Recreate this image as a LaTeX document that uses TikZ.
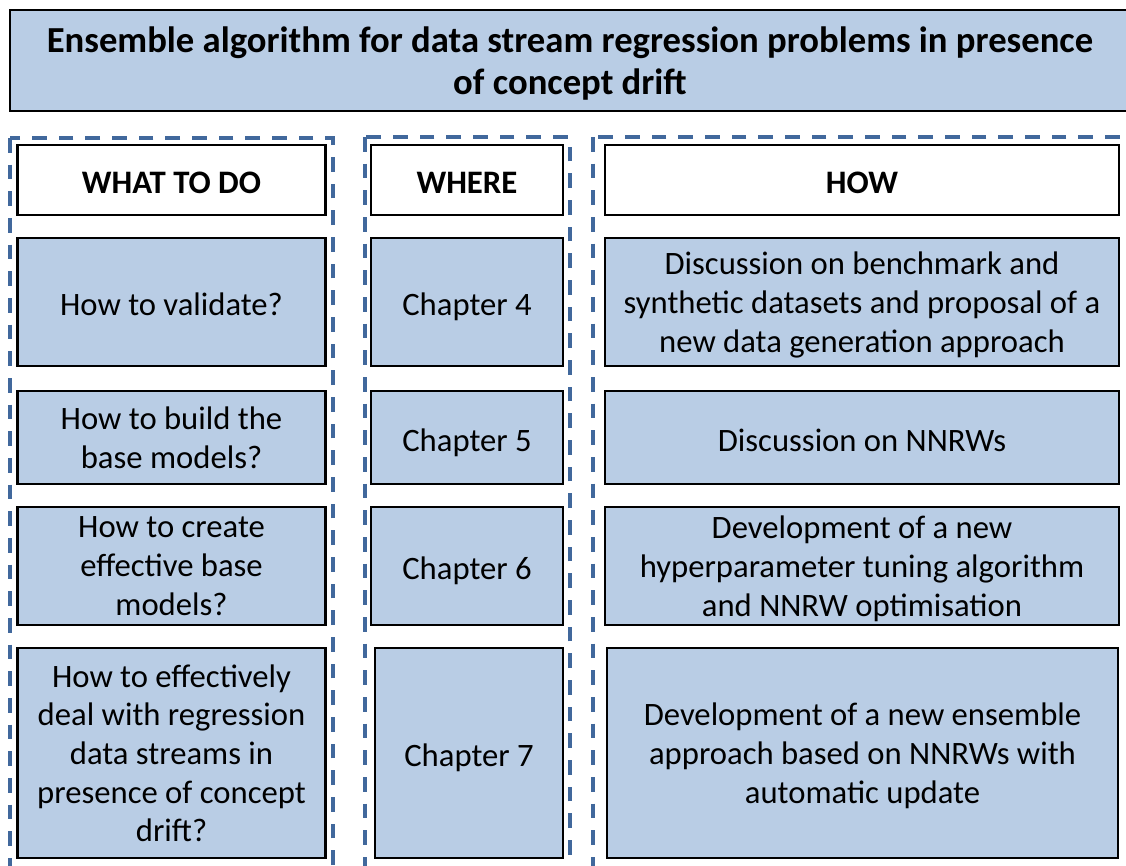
\documentclass[tikz,border=0pt]{standalone}
\usepackage{fontspec}
\setmainfont{Carlito}
\definecolor{cellblue}{HTML}{B9CDE5}
\definecolor{framblue}{HTML}{41689C}
\begin{document}
\begin{tikzpicture}[x=0.75pt,y=-0.75pt,
  box/.style 2 args={draw=black, line width=2.2pt, rectangle, inner sep=0pt,
    align=center, minimum width=#1*0.75pt, minimum height=#2*0.75pt,
    execute at begin node=\strut, execute at end node=\strut, text depth=0pt},
  cell/.style={fill=cellblue, font=\fontsize{24.5}{29}\selectfont},
  head/.style={fill=white, font=\bfseries\fontsize{24.6}{29}\selectfont},
  ttl/.style={fill=cellblue, font=\bfseries\fontsize{27.5}{31.5}\selectfont},
  panel/.style={draw=framblue, line width=2.4pt, dash pattern=on 11pt off 9pt}]
\clip (0,0) rectangle (1126,865);

% dashed frames around the three columns
\draw[panel] (10,138) rectangle (333,900);
\draw[panel] (365,137) rectangle (570,900);
\draw[panel] (593,137) rectangle (1160,900);

% title
\node[box={1120}{101}, ttl] (t) at (570,60.5)
  {Ensemble algorithm for data stream regression problems in presence\\of concept drift};

% column headers
\node[box={308}{70}, head] (hw) at (171.5,180) {WHAT TO DO};
\node[box={192}{70}, head] (hh) at (467,180) {WHERE};
\node[box={514}{70}, head] (hm) at (862,180) {HOW};

% row 1
\node[box={308}{128}, cell] (q1) at (171.5,302) {How to validate?};
\node[box={192}{128}, cell] (c1) at (467,302) {Chapter 4};
\node[box={514}{128}, cell] (a1) at (862,302)
  {Discussion on benchmark and\\synthetic datasets and proposal of a\\new data generation approach};

% row 2
\node[box={308}{93}, cell] (q2) at (171.5,437.5) {How to build the\\base models?};
\node[box={192}{93}, cell] (c2) at (467,437.5) {Chapter 5};
\node[box={514}{93}, cell] (a2) at (862,437.5) {Discussion on NNRWs};

% row 3
\node[box={308}{118}, cell] (q3) at (171.5,566) {How to create\\effective base\\models?};
\node[box={192}{118}, cell] (c3) at (467,566) {Chapter 6};
\node[box={514}{118}, cell] (a3) at (862,566)
  {Development of a new\\hyperparameter tuning algorithm\\and NNRW optimisation};

% row 4
\node[box={308}{210}, cell] (q4) at (171.5,753)
  {How to effectively\\deal with regression\\data streams in\\presence of concept\\drift?};
\node[box={188}{210}, cell] (c4) at (469,753) {Chapter 7};
\node[box={511}{210}, cell] (a4) at (862.5,753)
  {Development of a new ensemble\\approach based on NNRWs with\\automatic update};
\end{tikzpicture}
\end{document}
